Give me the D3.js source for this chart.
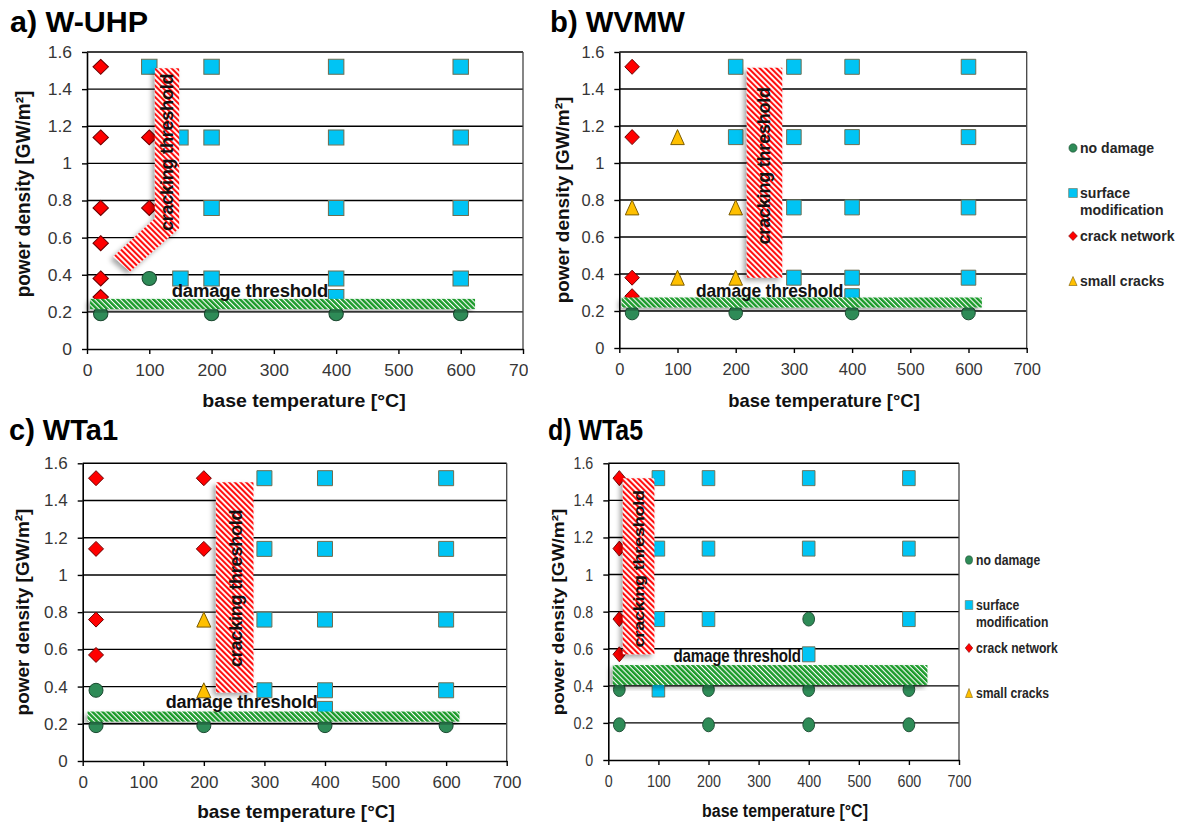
<!DOCTYPE html>
<html><head><meta charset="utf-8">
<script src="https://cdn.jsdelivr.net/npm/d3@7"></script>
<style>
body{margin:0;background:#fff}
svg{display:block}
text{font-family:Arial,"Liberation Sans",sans-serif}
</style>
</head><body>
<svg id="chart" width="1190" height="825"></svg>
<script>
// ---------- data ----------
const xTicks = [0, 100, 200, 300, 400, 500, 600, 700];
const yTicks = [0, 0.2, 0.4, 0.6, 0.8, 1.0, 1.2, 1.4, 1.6];
const yTickLabels = ["0", "0.2", "0.4", "0.6", "0.8", "1", "1.2", "1.4", "1.6"];
const panelTitles = ["a) W-UHP", "b) WVMW", "c) WTa1", "d) WTa5"];
const seriesNames = ["no damage", "surface modification", "crack network", "small cracks"];
const xTitle = "base temperature [°C]";
const yTitle = "power density [GW/m²]";

// a) W-UHP
const aNoDamage = [[22,0.19],[100,0.38],[200,0.19],[400,0.19],[600,0.19]];
const aSurface  = [[100,1.52],[200,1.52],[400,1.52],[600,1.52],[150,1.14],[200,1.14],[400,1.14],[600,1.14],[200,0.76],[400,0.76],[600,0.76],[150,0.38],[200,0.38],[400,0.38],[600,0.38],[400,0.28]];
const aCrack    = [[22,1.52],[22,1.14],[22,0.76],[22,0.57],[22,0.38],[22,0.28],[100,1.14],[100,0.76]];
const aSmall    = [];
// b) WVMW
const bNoDamage = [[22,0.19],[200,0.19],[400,0.19],[600,0.19]];
const bSurface  = [[200,1.52],[300,1.52],[400,1.52],[600,1.52],[200,1.14],[300,1.14],[400,1.14],[600,1.14],[300,0.76],[400,0.76],[600,0.76],[300,0.38],[400,0.38],[600,0.38],[400,0.28]];
const bCrack    = [[22,1.52],[22,1.14],[22,0.38],[22,0.28]];
const bSmall    = [[100,1.14],[22,0.76],[200,0.76],[100,0.38],[200,0.38]];
// c) WTa1
const cNoDamage = [[22,0.38],[22,0.19],[200,0.19],[400,0.19],[600,0.19]];
const cSurface  = [[300,1.52],[400,1.52],[600,1.52],[300,1.14],[400,1.14],[600,1.14],[300,0.76],[400,0.76],[600,0.76],[300,0.38],[400,0.38],[600,0.38],[400,0.28]];
const cCrack    = [[22,1.52],[200,1.52],[22,1.14],[200,1.14],[22,0.76],[22,0.57]];
const cSmall    = [[200,0.76],[200,0.38]];
// d) WTa5
const dNoDamage = [[22,0.38],[200,0.38],[400,0.38],[600,0.38],[22,0.19],[200,0.19],[400,0.19],[600,0.19],[400,0.76]];
const dSurface  = [[100,1.52],[200,1.52],[400,1.52],[600,1.52],[100,1.14],[200,1.14],[400,1.14],[600,1.14],[100,0.76],[200,0.76],[600,0.76],[400,0.57],[100,0.38]];
const dCrack    = [[22,1.52],[22,1.14],[22,0.76],[22,0.57]];
const dSmall    = [];

// annotation regions in data units
const damageBands = [[5,623,0.215,0.27],[4,623,0.219,0.273],[8,622,0.212,0.266],[9,637,0.405,0.512]];
const damageLabelAt = [[136,0.28],[132,0.276],[137,0.287],[130,0.53]];
const crackBands = [
  [[109,1.512],[148,1.512],[148,0.65],[69,0.417],[42,0.497],[109,0.704]],
  [[219,1.515],[280,1.515],[280,0.38],[219,0.38]],
  [[220,1.498],[282,1.498],[282,0.368],[220,0.368]],
  [[29,1.519],[92,1.519],[92,0.57],[29,0.57]]
];
const crackLabelAt = [[128,1.059],[248.6,0.985],[253,0.928],[61.3,1.031]];

const panelSeries = [
  [aNoDamage, aSurface, aCrack, aSmall],
  [bNoDamage, bSurface, bCrack, bSmall],
  [cNoDamage, cSurface, cCrack, cSmall],
  [dNoDamage, dSurface, dCrack, dSmall]
];

// ---------- layout / style ----------
const layouts = [
  {left:87,    right:523,   top:52,    bottom:349, sx:1.03, clipW:528, title:[10,32],  tsx:1.05, xT:[304,407], yT:[30,194],  legend:null},
  {left:619.3, right:1026.7,top:52,    bottom:348, sx:0.97, clipW:null, title:[550,32], tsx:1.01, xT:[824,407], yT:[569,200], legend:[1073,148]},
  {left:82.7,  right:506.7, top:463.3, bottom:761, sx:1.0,  clipW:null, title:[9,440],  tsx:1.0,  xT:[296,818], yT:[29,612],  legend:null},
  {left:608.3, right:959,   top:463.3, bottom:760, sx:0.84, clipW:null, title:[548,440], tsx:0.86, xT:[785,817], yT:[564,612], legend:[969,560]}
];
const markerStyle = [
  {shape:"circle",   fill:"#2e8b57", stroke:"#1b4a31"},
  {shape:"square",   fill:"#00c4f4", stroke:"#6e6e50"},
  {shape:"diamond",  fill:"#ff0000", stroke:"#6a0000"},
  {shape:"triangle", fill:"#ffc000", stroke:"#7a5a00"}
];
function shapePath(shape, s) {
  switch (shape) {
    case "circle":  return d3.arc()({innerRadius:0, outerRadius:7*s, startAngle:0, endAngle:2*Math.PI});
    case "square":  return `M${-7.5*s},${-7.5*s}h${15*s}v${15*s}h${-15*s}Z`;
    case "diamond": return `M0,${-7.5*s}L${7.5*s},0L0,${7.5*s}L${-7.5*s},0Z`;
    case "triangle":return `M0,${-7.5*s}L${7*s},${7.5*s}L${-7*s},${7.5*s}Z`;
  }
}

const svg = d3.select("#chart");
const defs = svg.append("defs");
const pr = defs.append("pattern").attr("id","hatchRed").attr("patternUnits","userSpaceOnUse")
  .attr("width",4).attr("height",4).attr("patternTransform","rotate(-45)");
pr.append("rect").attr("width",4).attr("height",4).attr("fill","#fff");
pr.append("rect").attr("width",2.1).attr("height",4).attr("fill","#ff1010");
const pg = defs.append("pattern").attr("id","hatchGreen").attr("patternUnits","userSpaceOnUse")
  .attr("width",3.6).attr("height",3.6).attr("patternTransform","rotate(-45)");
pg.append("rect").attr("width",3.6).attr("height",3.6).attr("fill","#fff");
pg.append("rect").attr("width",2.5).attr("height",3.6).attr("fill","#1a9a2a");
const flt = defs.append("filter").attr("id","shadow").attr("x","-30%").attr("y","-30%").attr("width","160%").attr("height","160%");
flt.append("feDropShadow").attr("dx",-3).attr("dy",3).attr("stdDeviation",2.5)
  .attr("flood-color","#000").attr("flood-opacity",0.35);

layouts.forEach((L, pi) => {
  if (L.clipW) {
    defs.append("clipPath").attr("id","clip"+pi).append("rect")
      .attr("x",0).attr("y",0).attr("width",L.clipW).attr("height",412);
  }
  const g = svg.append("g");
  if (L.clipW) g.attr("clip-path",`url(#clip${pi})`);

  const x = d3.scaleLinear().domain([0,700]).range([L.left, L.right]);
  const y = d3.scaleLinear().domain([0,1.6]).range([L.bottom, L.top]);

  // gridlines
  g.append("g").selectAll("line").data(yTicks.filter(v => v > 0)).join("line")
    .attr("x1", L.left).attr("x2", L.right)
    .attr("y1", d => y(d)).attr("y2", d => y(d))
    .attr("stroke","#000").attr("stroke-width",1.4);
  // right border
  g.append("line").attr("x1",L.right).attr("x2",L.right).attr("y1",y(1.6)).attr("y2",y(0))
    .attr("stroke","#444").attr("stroke-width",1.3);

  // axes
  const ax = g.append("g").attr("transform",`translate(0,${y(0)})`)
    .call(d3.axisBottom(x).tickValues(xTicks).tickSize(5).tickSizeOuter(0).tickPadding(10));
  const ay = g.append("g").attr("transform",`translate(${x(0)},0)`)
    .call(d3.axisLeft(y).tickValues(yTicks).tickFormat((d,i)=>yTickLabels[i]).tickSize(5).tickSizeOuter(0).tickPadding(10));
  [ax, ay].forEach(a => {
    a.attr("font-size",17).attr("font-family",null);
    a.select(".domain").attr("stroke","#000").attr("stroke-width",1.6);
    a.selectAll(".tick line").attr("stroke","#000").attr("stroke-width",1.4);
    a.selectAll(".tick text").attr("font-size",17).attr("fill","#363636");
  });
  ax.selectAll(".tick text").attr("transform",`scale(${L.sx},1)`);
  ay.selectAll(".tick text").attr("x", -15 / L.sx).attr("transform",`scale(${L.sx},1)`);

  // markers
  panelSeries[pi].forEach((pts, si) => {
    const st = markerStyle[si];
    g.append("g").selectAll("path").data(pts).join("path")
      .attr("d", shapePath(st.shape, 1))
      .attr("transform", d => `translate(${x(d[0])},${y(d[1])}) scale(${L.sx},1)`)
      .attr("fill", st.fill).attr("stroke", st.stroke).attr("stroke-width", 1);
  });

  // damage threshold band
  const db = damageBands[pi];
  g.append("rect").attr("x", x(db[0])).attr("width", x(db[1]) - x(db[0]))
    .attr("y", y(db[3])).attr("height", y(db[2]) - y(db[3]))
    .attr("fill","url(#hatchGreen)").attr("filter","url(#shadow)");
  // cracking threshold band
  g.append("path").attr("d", d3.line().x(d => x(d[0])).y(d => y(d[1]))(crackBands[pi]) + "Z")
    .attr("fill","url(#hatchRed)").attr("filter","url(#shadow)");

  // annotation labels
  const dl = damageLabelAt[pi];
  g.append("text").attr("transform",`translate(${x(dl[0])},${y(dl[1])}) scale(${L.sx},1)`)
    .attr("font-size",18).attr("font-weight","bold").attr("fill","#111").attr("letter-spacing",-0.2)
    .text("damage threshold");
  const cl = crackLabelAt[pi];
  g.append("text").attr("transform",`translate(${x(cl[0])},${y(cl[1])}) scale(${L.sx},1) rotate(-90)`)
    .attr("text-anchor","middle").attr("dominant-baseline","central")
    .attr("font-size",18).attr("font-weight","bold").attr("fill","#111").attr("letter-spacing",-0.2)
    .text("cracking threshold");

  // titles
  g.append("text").attr("transform",`translate(${L.title[0]},${L.title[1]}) scale(${L.tsx},1)`)
    .attr("font-size",29).attr("font-weight","bold").attr("fill","#000").text(panelTitles[pi]);
  g.append("text").attr("transform",`translate(${L.xT[0]},${L.xT[1]}) scale(${L.sx},1)`)
    .attr("text-anchor","middle").attr("font-size",19).attr("font-weight","bold").attr("fill","#111").text(xTitle);
  g.append("text").attr("transform",`translate(${L.yT[0]},${L.yT[1]}) scale(${L.sx},1) rotate(-90)`)
    .attr("text-anchor","middle").attr("font-size",19).attr("font-weight","bold").attr("fill","#111").text(yTitle);

  // legend
  if (L.legend) {
    const [lx, ly] = L.legend;
    const offs = [0, 45, 88, 133];
    const lg = svg.append("g");
    seriesNames.forEach((name, si) => {
      const st = markerStyle[si];
      const cy = ly + offs[si];
      lg.append("path").attr("d", shapePath(st.shape, 0.6))
        .attr("transform",`translate(${lx},${cy}) scale(${L.sx},1)`)
        .attr("fill", st.fill).attr("stroke", st.stroke).attr("stroke-width",0.6);
      const t = lg.append("text").attr("transform",`translate(${lx + 7},${cy + 5}) scale(${L.sx},1)`)
        .attr("font-size",14.5).attr("font-weight","bold").attr("fill","#262626");
      if (name === "surface modification") {
        t.append("tspan").attr("x",0).attr("y",0).text("surface");
        t.append("tspan").attr("x",0).attr("y",17).text("modification");
      } else {
        t.text(name);
      }
    });
  }
});
</script>
</body></html>
